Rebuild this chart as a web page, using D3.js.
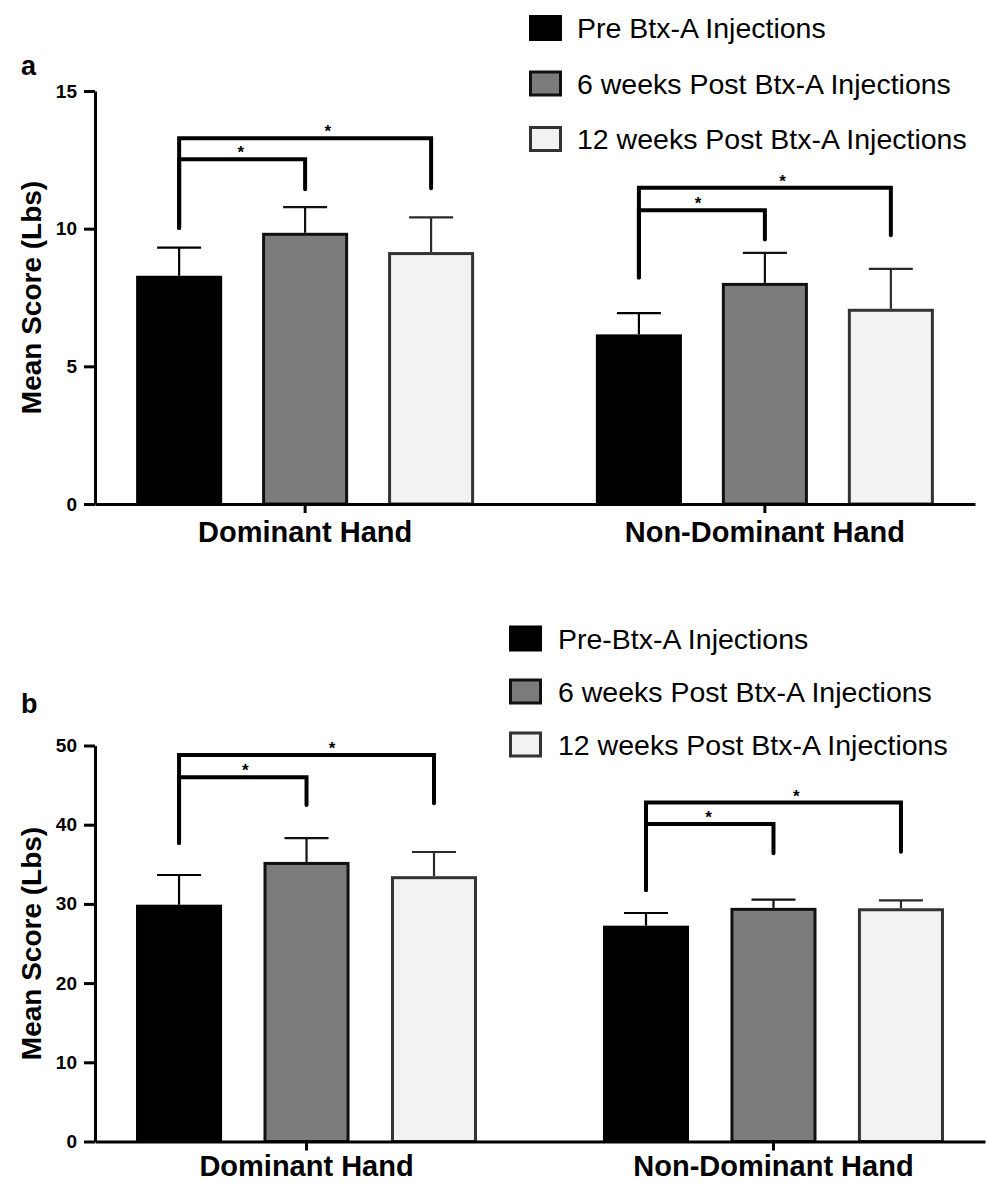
<!DOCTYPE html>
<html>
<head>
<meta charset="utf-8">
<script src="https://cdn.jsdelivr.net/npm/d3@7"></script>
<style>
  html, body { margin: 0; padding: 0; background: #fff; }
  svg { display: block; font-family: "Liberation Sans", Arial, Helvetica, sans-serif; }
</style>
</head>
<body>
<svg id="chart" width="986" height="1182"></svg>
<script>
// ---------------- DATA ----------------
const categories = ["Dominant Hand", "Non-Dominant Hand"];
const seriesKeys = ["pre", "wk6", "wk12"];
const legendA = ["Pre Btx-A Injections", "6 weeks Post Btx-A Injections", "12 weeks Post Btx-A Injections"];
const legendB = ["Pre-Btx-A Injections", "6 weeks Post Btx-A Injections", "12 weeks Post Btx-A Injections"];

// Panel a: mean (Lbs) and upper error (SD) per category, per series
const meanA = [[8.29, 9.85, 9.15], [6.16, 8.03, 7.09]];
const errA  = [[1.02, 0.93, 1.26], [0.77, 1.09, 1.45]];
const ticksA = [0, 5, 10, 15];

// Panel b
const meanB = [[29.9, 35.3, 33.5], [27.25, 29.5, 29.45]];
const errB  = [[3.75, 3.0, 3.05], [1.6, 1.05, 1.0]];
const ticksB = [0, 10, 20, 30, 40, 50];

// Significance brackets: [category, fromSeries, toSeries, topValue, fromEndValue, toEndValue, starFraction]
const bracketsA = [
  [0, 0, 1, 12.52, 10.02, 11.43, 0.49],
  [0, 0, 2, 13.28, 10.02, 11.47, 0.59],
  [1, 0, 1, 10.67, 8.23, 9.61, 0.47],
  [1, 0, 2, 11.49, 8.23, 9.76, 0.57]
];
const bracketsB = [
  [0, 0, 1, 46.0, 37.7, 42.5, 0.52],
  [0, 0, 2, 48.8, 37.7, 42.7, 0.60],
  [1, 0, 1, 40.1, 31.75, 36.4, 0.49],
  [1, 0, 2, 42.8, 31.75, 36.6, 0.59]
];

// ---------------- STYLE ----------------
const fills   = ["#000000", "#7c7c7c", "#f2f2f2"];
const strokes = ["#000000", "#111111", "#333333"];
const errCol  = ["#000000", "#111111", "#2a2a2a"];

const svg = d3.select("#chart");

function panel(cfg) {
  const g = svg.append("g");
  const y = d3.scaleLinear().domain(cfg.yDomain).range([cfg.y0, cfg.y1]);
  const x0 = d3.scaleBand().domain(categories).range([cfg.xLeft, cfg.xRight])
    .paddingInner(cfg.padInner).paddingOuter(cfg.padOuter);
  const x1 = d3.scaleBand().domain(seriesKeys).range([0, x0.bandwidth()])
    .paddingInner(cfg.barPad).paddingOuter(cfg.barPad / 2);

  const rows = [];
  categories.forEach((c, ci) => seriesKeys.forEach((s, si) => {
    rows.push({ c, ci, s, si, mean: cfg.mean[ci][si], err: cfg.err[ci][si] });
  }));
  const cx = d => x0(d.c) + x1(d.s) + x1.bandwidth() / 2;
  const sw = 3;

  // error bars (upper only)
  const eg = g.append("g");
  eg.selectAll("line.v").data(rows).join("line")
    .attr("x1", cx).attr("x2", cx)
    .attr("y1", d => y(d.mean)).attr("y2", d => y(d.mean + d.err))
    .attr("stroke", d => errCol[d.si]).attr("stroke-width", 2.2);
  eg.selectAll("line.h").data(rows).join("line")
    .attr("x1", d => cx(d) - 22).attr("x2", d => cx(d) + 22)
    .attr("y1", d => y(d.mean + d.err)).attr("y2", d => y(d.mean + d.err))
    .attr("stroke", d => errCol[d.si]).attr("stroke-width", 2.2);

  // bars
  g.append("g").selectAll("rect").data(rows).join("rect")
    .attr("x", d => x0(d.c) + x1(d.s) + sw / 2)
    .attr("width", x1.bandwidth() - sw)
    .attr("y", d => y(d.mean) + sw / 2)
    .attr("height", d => y(0) - y(d.mean) - sw / 2)
    .attr("fill", d => fills[d.si])
    .attr("stroke", d => strokes[d.si])
    .attr("stroke-width", sw);

  // brackets
  const bx = (ci, si) => x0(categories[ci]) + x1(seriesKeys[si]) + x1.bandwidth() / 2;
  const bg = g.append("g");
  bg.selectAll("path").data(cfg.brackets).join("path")
    .attr("d", b => {
      const xa = bx(b[0], b[1]), xb = bx(b[0], b[2]);
      return `M${xa},${y(b[4])}V${y(b[3])}H${xb}V${y(b[5])}`;
    })
    .attr("fill", "none").attr("stroke", "#000").attr("stroke-width", 4)
    .attr("stroke-linecap", "round").attr("stroke-linejoin", "miter");
  bg.selectAll("text").data(cfg.brackets).join("text")
    .attr("x", b => { const xa = bx(b[0], b[1]), xb = bx(b[0], b[2]); return xa + (xb - xa) * b[6]; })
    .attr("y", b => y(b[3]) - 1)
    .attr("text-anchor", "middle")
    .attr("font-size", 17).attr("font-weight", "bold")
    .text("*");

  // y axis
  const ya = g.append("g").attr("transform", `translate(${cfg.xLeft},0)`)
    .call(d3.axisLeft(y).tickValues(cfg.ticks).tickFormat(d3.format("d")).tickSize(11).tickSizeOuter(0).tickPadding(7));
  ya.select(".domain").attr("stroke-width", 3).attr("stroke", "#000");
  ya.selectAll(".tick line").attr("stroke-width", 3).attr("stroke", "#000");
  ya.selectAll(".tick text").attr("font-size", 19).attr("font-weight", "bold")
    .attr("fill", "#000").attr("font-family", "Liberation Sans, Arial, sans-serif");

  // x axis
  const xa = g.append("g").attr("transform", `translate(0,${y(0)})`)
    .call(d3.axisBottom(x0).tickSize(9).tickSizeOuter(0).tickPadding(cfg.xLabelPad));
  xa.select(".domain").attr("stroke-width", 3).attr("stroke", "#000");
  xa.selectAll(".tick line").attr("stroke-width", 3).attr("stroke", "#000");
  xa.selectAll(".tick text").attr("font-size", 29).attr("font-weight", "bold")
    .attr("fill", "#000").attr("font-family", "Liberation Sans, Arial, sans-serif");

  // y title
  g.append("text")
    .attr("transform", `translate(41,${(cfg.y0 + cfg.y1) / 2}) rotate(-90)`)
    .attr("text-anchor", "middle")
    .attr("font-size", 28).attr("font-weight", "bold")
    .text("Mean Score (Lbs)");

  // panel letter
  g.append("text").attr("x", cfg.letterX).attr("y", cfg.letterY)
    .attr("font-size", 27).attr("font-weight", "bold").text(cfg.letter);

  // legend
  const lg = g.append("g");
  const items = lg.selectAll("g").data(cfg.legend).join("g")
    .attr("transform", (d, i) => `translate(${cfg.legX},${cfg.legY + i * cfg.legStep})`);
  items.append("rect")
    .attr("x", 1.5).attr("y", -11.5).attr("width", 30).attr("height", 23)
    .attr("fill", (d, i) => fills[i]).attr("stroke", (d, i) => strokes[i]).attr("stroke-width", 3);
  items.append("text")
    .attr("x", cfg.legTextDx).attr("y", 0).attr("dy", "0.36em")
    .attr("font-size", 28.5).attr("fill", "#000")
    .text(d => d);
}

panel({
  yDomain: [0, 15], y0: 504, y1: 91, xLeft: 95, xRight: 975,
  padInner: 0.178, padOuter: 0.046, barPad: 0.317, xLabelPad: 8,
  mean: meanA, err: errA, ticks: ticksA, brackets: bracketsA,
  letter: "a", letterX: 21, letterY: 75,
  legend: legendA, legX: 529, legY: 28, legStep: 55.5, legTextDx: 48
});

panel({
  yDomain: [0, 50], y0: 1141.5, y1: 745.5, xLeft: 95, xRight: 985,
  padInner: 0.181, padOuter: 0.0435, barPad: 0.325, xLabelPad: 5,
  mean: meanB, err: errB, ticks: ticksB, brackets: bracketsB,
  letter: "b", letterX: 21, letterY: 713,
  legend: legendB, legX: 509, legY: 638.5, legStep: 53, legTextDx: 49
});
</script>
</body>
</html>
